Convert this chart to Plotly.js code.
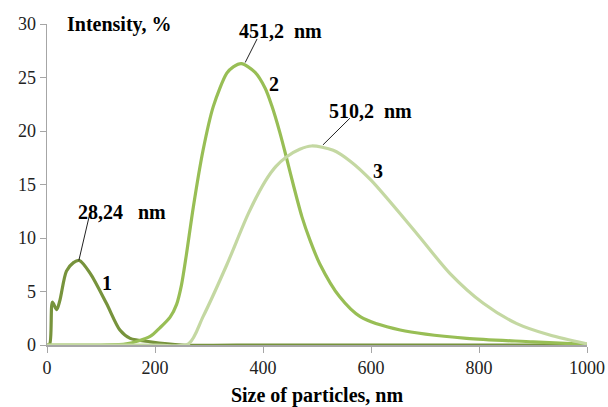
<!DOCTYPE html>
<html>
<head>
<meta charset="utf-8">
<script src="https://cdn.plot.ly/plotly-3.0.1.min.js"></script>
<style>html,body{margin:0;padding:0;background:#fff;}#chart{width:608px;height:407px;}</style>
</head>
<body>
<div id="chart"></div>
<script>
// Curve 1
const x1 = [0, 5, 10, 18, 24, 36, 49, 60, 80, 110, 135, 154, 191, 250, 400, 600, 800, 1000];
const y1 = [0, 0.1, 4.0, 3.3, 4.2, 6.9, 7.7, 7.9, 6.7, 3.9, 1.4, 0.62, 0.3, 0, 0, 0, 0, 0];
// Curve 2
const x2 = [0, 100, 147, 191, 209, 228, 240, 249, 258, 271, 289, 308, 333, 345, 360, 385, 404, 416, 431, 444, 456, 472, 487, 505, 542, 580, 654, 777, 900, 1000];
const y2 = [0, 0, 0.1, 0.8, 1.6, 2.6, 3.8, 5.6, 8.4, 12.9, 18.2, 22.3, 25.4, 26.0, 26.3, 25.5, 24.0, 22.4, 19.9, 17.4, 15.0, 12.0, 9.8, 7.6, 4.5, 2.65, 1.4, 0.62, 0.3, 0.05];
// Curve 3
const x3 = [0, 200, 262, 289, 333, 373, 404, 424, 444, 468, 490, 530, 561, 600, 685, 746, 808, 870, 931, 1000];
const y3 = [0, 0, 0.1, 2.65, 7.5, 12.3, 15.3, 16.7, 17.6, 18.3, 18.6, 18.2, 17.2, 15.4, 10.4, 6.7, 3.9, 2.0, 0.93, 0.1];

const curveLabels = ["1", "2", "3"];
const peakLabels = ["28,24\u00a0\u00a0\u00a0nm", "451,2\u00a0\u00a0nm", "510,2\u00a0\u00a0nm"];
const xTitle = "Size of particles, nm";
const yTitle = "Intensity, %";

const serif = "Liberation Serif";

const traces = [
  {x: x1, y: y1, mode: "lines", line: {color: "#77933C", width: 3.2, shape: "spline", smoothing: 0.8}, hoverinfo: "skip"},
  {x: x2, y: y2, mode: "lines", line: {color: "#98BE55", width: 3.2, shape: "spline", smoothing: 0.8}, hoverinfo: "skip"},
  {x: x3, y: y3, mode: "lines", line: {color: "#C4D8A2", width: 3.2, shape: "spline", smoothing: 0.8}, hoverinfo: "skip"}
];

const txt = (text, x, y, xanchor) => ({
  text: text, x: x, y: y, xref: "x", yref: "y", showarrow: false,
  xanchor: xanchor || "center", yanchor: "middle",
  font: {family: serif, size: 20, color: "#000", weight: "bold"}
});

const layout = {
  width: 608, height: 407,
  margin: {l: 47, r: 21, t: 24, b: 62},
  paper_bgcolor: "#fff", plot_bgcolor: "#fff",
  font: {family: serif, size: 18, color: "#222"},
  showlegend: false,
  xaxis: {
    range: [0, 1000], dtick: 200, tick0: 0,
    showline: true, linecolor: "#A6A6A6", linewidth: 1.5,
    ticks: "outside", ticklen: 6, tickcolor: "#A6A6A6",
    showgrid: false, zeroline: false,
    tickfont: {family: serif, size: 18, color: "#222"},
    title: {text: xTitle, font: {family: serif, size: 20, color: "#000", weight: "bold"}, standoff: 12}
  },
  yaxis: {
    range: [0, 30], dtick: 5, tick0: 0,
    showline: true, linecolor: "#A6A6A6", linewidth: 1.5,
    ticks: "outside", ticklen: 6, tickcolor: "#A6A6A6",
    showgrid: false, zeroline: false,
    tickfont: {family: serif, size: 18, color: "#222"}
  },
  shapes: [
    {type: "line", xref: "x", yref: "y", x0: 78, y0: 12.0, x1: 59, y1: 7.9, line: {color: "#222", width: 1}},
    {type: "line", xref: "x", yref: "y", x0: 389, y0: 28.6, x1: 367, y1: 26.4, line: {color: "#222", width: 1}},
    {type: "line", xref: "x", yref: "y", x0: 561, y0: 21.2, x1: 511, y1: 18.7, line: {color: "#222", width: 1}}
  ],
  annotations: [
    txt(yTitle, 33, 30, "left"),
    txt(peakLabels[0], 53, 12.4, "left"),
    txt(peakLabels[1], 351, 29.3, "left"),
    txt(peakLabels[2], 518, 21.9, "left"),
    txt(curveLabels[0], 111, 5.8),
    txt(curveLabels[1], 420, 24.4),
    txt(curveLabels[2], 613, 16.3)
  ]
};

Plotly.newPlot("chart", traces, layout, {staticPlot: true, displayModeBar: false});
</script>
</body>
</html>
